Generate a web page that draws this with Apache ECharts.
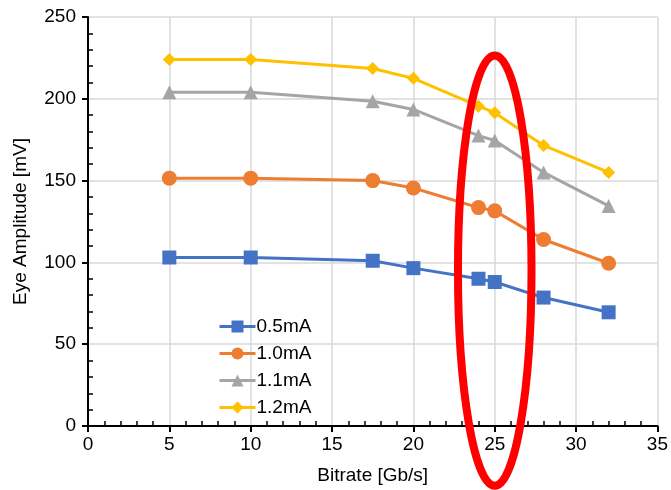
<!DOCTYPE html>
<html>
<head>
<meta charset="utf-8">
<script src="https://cdn.jsdelivr.net/npm/echarts@6/dist/echarts.min.js"></script>
<style>html,body{margin:0;padding:0;background:#fff;overflow:hidden;}#c{width:671px;height:490px;}</style>
</head>
<body>
<div id="c"></div>
<script>
const bitrates = [5, 10, 17.5, 20, 24, 25, 28, 32];
const seriesNames = ['0.5mA', '1.0mA', '1.1mA', '1.2mA'];
const amp05 = [103, 103, 101, 96.5, 90, 88, 78.5, 69.5];
const amp10 = [151.5, 151.5, 150, 145.5, 133.5, 131.5, 114, 99.5];
const amp11 = [204, 204, 198.5, 193.5, 177.5, 174.5, 155, 134.5];
const amp12 = [224, 224, 218.5, 212.5, 195.5, 191.5, 171.5, 155];
// annotation ellipse (data units): centre and radii
const ringCenter = [25, 95];
const ringRadius = [2.26, 131.5];

const colors = ['#4472C4', '#ED7D31', '#A5A5A5', '#FFC000'];
const symbols = ['rect', 'circle', 'triangle', 'diamond'];
const symSizes = [14, 15, 14, 13];
const values = [amp05, amp10, amp11, amp12];
const FONT = 'Liberation Sans';
const FS = 19;

const chart = echarts.init(document.getElementById('c'));
const series = seriesNames.map((n, i) => ({
  name: n, type: 'line',
  data: bitrates.map((x, j) => [x, values[i][j]]),
  symbol: symbols[i], symbolSize: symSizes[i], showSymbol: true,
  lineStyle: {color: colors[i], width: 3},
  itemStyle: {color: colors[i]},
  z: 2 + i
}));

chart.setOption({
  animation: false,
  textStyle: {fontFamily: FONT},
  grid: {left: 88, right: 11, top: 17, bottom: 62, containLabel: false},
  legend: {
    orient: 'vertical', left: 213, top: 312,
    itemWidth: 36, itemHeight: 15, itemGap: 8,
    lineStyle: {width: 3},
    textStyle: {fontFamily: FONT, fontSize: FS, color: '#000', padding: [0, 0, 0, -4]},
    data: seriesNames
  },
  xAxis: {
    type: 'value', min: 0, max: 35, interval: 5,
    name: 'Bitrate [Gb/s]', nameLocation: 'middle', nameGap: 40,
    nameTextStyle: {fontFamily: FONT, fontSize: FS, color: '#000'},
    axisLine: {onZero: false, lineStyle: {color: '#000', width: 2}},
    axisTick: {show: true, length: 6, lineStyle: {color: '#000', width: 2}},
    minorTick: {show: true, splitNumber: 5, length: -5, lineStyle: {color: '#000', width: 1.5}},
    axisLabel: {fontFamily: FONT, fontSize: FS, color: '#000', margin: 9},
    splitLine: {show: true, lineStyle: {color: '#d9d9d9', width: 1.5}}
  },
  yAxis: {
    type: 'value', min: 0, max: 250, interval: 50,
    name: 'Eye Amplitude [mV]', nameLocation: 'middle', nameGap: 58,
    nameTextStyle: {fontFamily: FONT, fontSize: FS, color: '#000'},
    axisLine: {show: true, onZero: false, lineStyle: {color: '#000', width: 2}},
    axisTick: {show: true, length: 6, lineStyle: {color: '#000', width: 2}},
    minorTick: {show: true, splitNumber: 5, length: -5, lineStyle: {color: '#000', width: 1.5}},
    axisLabel: {fontFamily: FONT, fontSize: FS, color: '#000', margin: 12},
    splitLine: {show: true, lineStyle: {color: '#d9d9d9', width: 1.5}}
  },
  series: series
});

const c = chart.convertToPixel({gridIndex: 0}, ringCenter);
const e = chart.convertToPixel({gridIndex: 0}, [ringCenter[0] + ringRadius[0], ringCenter[1] + ringRadius[1]]);
chart.setOption({
  graphic: [{
    type: 'ellipse', z: 100,
    shape: {cx: c[0], cy: c[1], rx: Math.abs(e[0] - c[0]), ry: Math.abs(c[1] - e[1])},
    style: {fill: 'none', stroke: '#FF0000', lineWidth: 8}
  }]
});
</script>
</body>
</html>
